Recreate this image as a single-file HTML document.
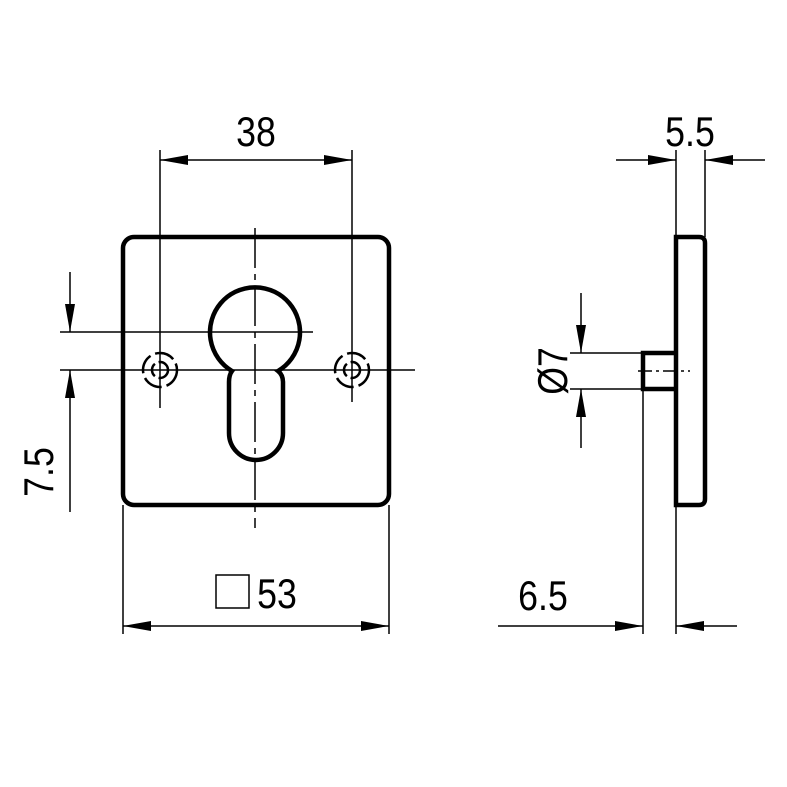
<!DOCTYPE html>
<html><head><style>html,body{margin:0;padding:0;background:#fff}svg{display:block}</style></head><body>
<svg width="787" height="787" viewBox="0 0 787 787" xmlns="http://www.w3.org/2000/svg">
<defs>
<marker id="a" viewBox="0 0 28 10" refX="28" refY="5" markerWidth="28" markerHeight="10" markerUnits="userSpaceOnUse" orient="auto-start-reverse"><path d="M0,0 L28,5 L0,10 Z" fill="#000"/></marker>
</defs>
<g fill="none" stroke="#000">
<rect x="123" y="237" width="266" height="268" rx="11" stroke-width="4.5"/>
<path d="M229,382 Q229,375 232,371 A45,45 0 1 1 278,371 Q283,375 283,382 L283,433 A27,27 0 0 1 229,433 Z" stroke-width="4.5"/>
<g stroke-width="2.5">
<circle cx="160" cy="370" r="17" stroke-dasharray="20 5"/>
<circle cx="160" cy="370" r="8" stroke-dasharray="14 4"/>
<circle cx="352" cy="370" r="17" stroke-dasharray="20 5"/>
<circle cx="352" cy="370" r="8" stroke-dasharray="14 4"/>
</g>
<g stroke-width="1.5">
<line x1="255" y1="228" x2="255" y2="528" stroke-dasharray="40 6 6 6"/>
<line x1="60" y1="332" x2="313" y2="332"/>
<line x1="60" y1="370" x2="415" y2="370"/>
<line x1="160" y1="150" x2="160" y2="408"/>
<line x1="352" y1="150" x2="352" y2="402"/>
<line x1="160" y1="160" x2="352" y2="160" marker-start="url(#a)" marker-end="url(#a)"/>
<line x1="70" y1="272" x2="70" y2="332" marker-end="url(#a)"/>
<line x1="70" y1="512" x2="70" y2="370" marker-end="url(#a)"/>
<line x1="123" y1="505" x2="123" y2="634"/>
<line x1="389" y1="505" x2="389" y2="634"/>
<line x1="123" y1="626" x2="389" y2="626" marker-start="url(#a)" marker-end="url(#a)"/>
<rect x="216" y="575" width="33" height="33"/>
<line x1="676" y1="150" x2="676" y2="634"/>
<line x1="705" y1="150" x2="705" y2="237"/>
<line x1="616" y1="160" x2="676" y2="160" marker-end="url(#a)"/>
<line x1="765" y1="160" x2="705" y2="160" marker-end="url(#a)"/>
<line x1="570" y1="353" x2="643" y2="353"/>
<line x1="570" y1="389" x2="643" y2="389"/>
<line x1="581" y1="293" x2="581" y2="353" marker-end="url(#a)"/>
<line x1="581" y1="448" x2="581" y2="389" marker-end="url(#a)"/>
<line x1="643" y1="389" x2="643" y2="634"/>
<line x1="498" y1="626" x2="643" y2="626" marker-end="url(#a)"/>
<line x1="737" y1="626" x2="676" y2="626" marker-end="url(#a)"/>
<line x1="638" y1="371" x2="690" y2="371" stroke-dasharray="14 4 3 4"/>
</g>
<path d="M676,237 L699,237 Q705,237 705,243 L705,499 Q705,505 699,505 L676,505 Z" stroke-width="4.5"/>
<path d="M676,353 L643,353 L643,389 L676,389" stroke-width="4.5"/>
</g>
<g font-family="'Liberation Sans',sans-serif" font-size="42" fill="#000" text-anchor="middle">
<text x="256" y="146" transform="translate(256 0) scale(0.85 1) translate(-256 0)">38</text>
<text x="690" y="146" transform="translate(690 0) scale(0.85 1) translate(-690 0)">5.5</text>
<text x="277" y="608" transform="translate(277 0) scale(0.85 1) translate(-277 0)">53</text>
<text x="543" y="610" transform="translate(543 0) scale(0.85 1) translate(-543 0)">6.5</text>
<text transform="translate(53 472) rotate(-90) scale(0.85 1)" x="0" y="0">7.5</text>
<text transform="translate(567 371) rotate(-90) scale(0.85 1)" x="0" y="0">Ø7</text>
</g>
</svg>
</body></html>
